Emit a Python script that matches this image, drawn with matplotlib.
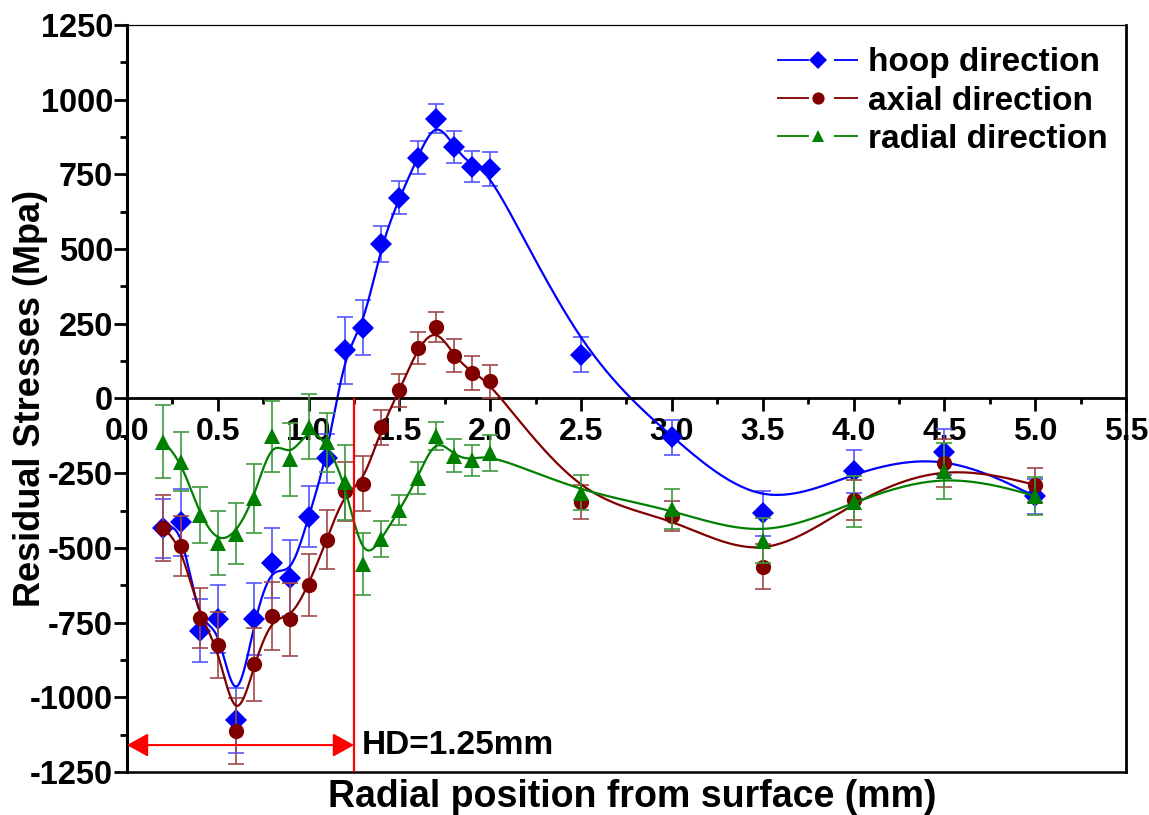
import numpy as np
import matplotlib
matplotlib.use("Agg")
import matplotlib.pyplot as plt
from matplotlib.ticker import MultipleLocator, FormatStrFormatter

plt.rcParams['font.family'] = ['Liberation Sans', 'DejaVu Sans']
plt.rcParams['font.weight'] = 'bold'
plt.rcParams['lines.scale_dashes'] = False
plt.rcParams['axes.unicode_minus'] = False

# radial positions (mm)
pos = [0.2, 0.3, 0.4, 0.5, 0.6, 0.7, 0.8, 0.9, 1.0, 1.1, 1.2, 1.3, 1.4, 1.5,
       1.6, 1.7, 1.8, 1.9, 2.0, 2.5, 3.0, 3.5, 4.0, 4.5, 5.0]

hoop = [-435, -415, -777, -739, -1077, -738, -551, -602, -395, -200, 161, 236,
        516, 672, 806, 937, 842, 776, 769, 147, -130, -384, -244, -179, -328]
hoop_err = [100, 112, 106, 114, 109, 122, 118, 127, 102, 82, 112, 92, 60, 55,
            55, 50, 53, 51, 57, 58, 58, 75, 71, 76, 60]

axial = [-434, -494, -734, -825, -1113, -889, -728, -739, -624, -473, -311, -286,
         -97, 27, 169, 240, 143, 85, 57, -347, -393, -563, -339, -216, -289]
axial_err = [110, 100, 100, 110, 110, 122, 113, 122, 104, 99, 100, 92, 59, 55,
             55, 50, 55, 57, 54, 56, 51, 75, 67, 79, 56]

radial = [-144, -211, -390, -484, -453, -334, -127, -203, -94, -147, -281, -554,
          -471, -373, -267, -125, -192, -207, -183, -315, -369, -476, -345, -244, -326]
radial_err = [123, 100, 95, 108, 102, 115, 118, 122, 110, 100, 127, 103, 61, 50,
              54, 46, 55, 52, 60, 58, 67, 75, 86, 94, 64]

hd = 1.25          # hardened depth (mm)
arrow_y = -1160


def bspline(x, y, n=30):
    """uniform cubic B-spline using the data as control points (ends clamped)"""
    px = np.r_[x[0], x[0], x, x[-1], x[-1]]
    py = np.r_[y[0], y[0], y, y[-1], y[-1]]
    t = np.linspace(0, 1, n)
    b0 = (1 - t) ** 3 / 6
    b1 = (3 * t ** 3 - 6 * t ** 2 + 4) / 6
    b2 = (-3 * t ** 3 + 3 * t ** 2 + 3 * t + 1) / 6
    b3 = t ** 3 / 6
    xs, ys = [], []
    for i in range(len(px) - 3):
        xs.append(b0 * px[i] + b1 * px[i + 1] + b2 * px[i + 2] + b3 * px[i + 3])
        ys.append(b0 * py[i] + b1 * py[i + 1] + b2 * py[i + 2] + b3 * py[i + 3])
    return np.concatenate(xs), np.concatenate(ys)


fig = plt.figure(figsize=(11.49, 8.15), dpi=100)
ax = fig.add_axes([0.1105, 0.0528, 0.8695, 0.9165])

series = [
    ("hoop direction", hoop, hoop_err, "#0000ff", "#5555ff", "D", 11.5),
    ("axial direction", axial, axial_err, "#800000", "#a04848", "o", 11),
    ("radial direction", radial, radial_err, "#008000", "#409a40", "^", 11.5),
]

handles = []
for i, (name, vals, err, col, ecol, mk, ms) in enumerate(series):
    ax.errorbar(pos, vals, yerr=err, fmt="none", ecolor=ecol, elinewidth=1.2,
                capsize=6, capthick=1.2, zorder=2 + i)
    sx, sy = bspline(np.array(pos), np.array(vals, dtype=float))
    ax.plot(sx, sy, color=col, lw=1.6, zorder=2 + i)
    ax.plot(pos, vals, linestyle="none", marker=mk, ms=ms, color=col,
            markeredgewidth=0, zorder=2 + i)
    h, = ax.plot([], [], color=col, lw=1.3, linestyle=(0, (23, 18)),
                 marker=mk, ms=ms * 0.8, markeredgewidth=0)
    h.set_label(name)
    handles.append(h)

ax.set_xlim(0, 5.5)
ax.set_ylim(-1250, 1250)

# axes frame: x axis sits on the zero line, extra line at the bottom
ax.spines['bottom'].set_position(('data', 0))
ax.spines['bottom'].set_linewidth(2.0)
ax.spines['top'].set_position(('axes', 0.0))
ax.spines['top'].set_linewidth(1.8)
ax.spines['left'].set_linewidth(2.2)
ax.spines['right'].set_linewidth(2.0)
# thin top border
ax.plot([0, 1], [1, 1], transform=ax.transAxes, color="k", lw=0.9, clip_on=False)

ax.xaxis.set_major_locator(MultipleLocator(0.5))
ax.xaxis.set_minor_locator(MultipleLocator(0.25))
ax.xaxis.set_major_formatter(FormatStrFormatter('%.1f'))
ax.yaxis.set_major_locator(MultipleLocator(250))
ax.yaxis.set_minor_locator(MultipleLocator(125))
ax.tick_params(axis='x', which='major', direction='out', length=9.5, width=2,
               labelsize=23, pad=4)
ax.tick_params(axis='x', which='minor', direction='out', length=4.5, width=2)
ax.tick_params(axis='y', which='major', direction='out', length=9.5, width=2,
               labelsize=23.5, pad=0.5)
ax.tick_params(axis='y', which='minor', direction='out', length=5, width=2)
ax.tick_params(top=False, labeltop=False, right=False)

ax.set_xlabel("Radial position from surface (mm)", fontsize=27, fontweight='bold')
ax.xaxis.set_label_coords(0.506, -0.010)
ax.set_ylabel("Residual Stresses (Mpa)", fontsize=26, fontweight='bold')
ax.yaxis.set_label_coords(-0.079, 0.5)

# hardened depth marker
ax.vlines(hd, -1250, 0, color="red", lw=1.6, zorder=6)
ax.annotate("", xy=(0.0, arrow_y), xytext=(hd, arrow_y),
            arrowprops=dict(arrowstyle="<|-|>,head_length=0.65,head_width=0.36",
                            color="red", lw=1.5, shrinkA=0, shrinkB=0,
                            mutation_scale=20), zorder=6)
ax.text(hd + 0.042, arrow_y, "HD=1.25mm", fontsize=24, fontweight='bold',
        va='center', ha='left')

ax.legend(handles=handles, loc='upper left', bbox_to_anchor=(0.637, 0.988),
          frameon=False, fontsize=24, handlelength=2.45, handletextpad=0.3,
          labelspacing=0.22, numpoints=1, borderaxespad=0)

fig.savefig("out.png", dpi=100)
